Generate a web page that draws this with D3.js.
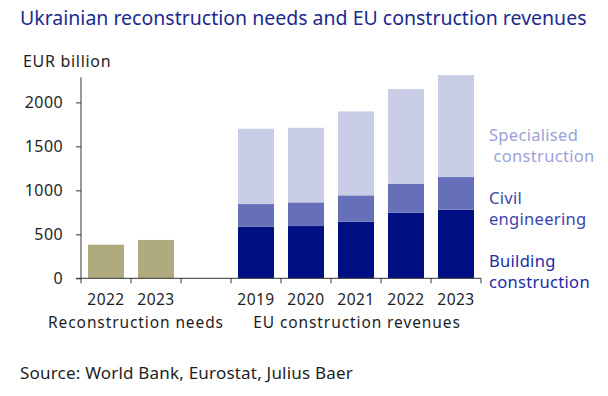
<!DOCTYPE html>
<html><head><meta charset="utf-8">
<script src="https://cdn.jsdelivr.net/npm/d3@7"></script>
<style>body{margin:0;background:#fff;} svg{display:block;font-family:"Noto Sans",sans-serif;}</style>
</head><body>
<svg id="c" width="608" height="396"></svg>
<script>
const slots = ["r2022","r2023","gap","e2019","e2020","e2021","e2022","e2023"];
const slotLabels = ["2022","2023","","2019","2020","2021","2022","2023"];
const reconCats = ["r2022","r2023"];
const reconValues = [382, 436];
const euCats = ["e2019","e2020","e2021","e2022","e2023"];
const building = [587, 594, 644, 746, 780];
const civil = [257, 269, 299, 329, 371];
const specialised = [856, 848, 954, 1076, 1159];
const yTicks = [0, 500, 1000, 1500, 2000];

const svg = d3.select("#c");
const x0 = 81, x1 = 481, yBase = 278.3;
const x = d3.scaleBand().domain(slots).range([x0, x1]).paddingInner(0.28).paddingOuter(0.14);
const y = d3.scaleLinear().domain([0, 2285]).range([yBase, 77.3]);
const ink = "#1e1e1e";

svg.append("text").attr("x", 20).attr("y", 25).attr("font-size", 19.5).attr("fill", "#1b2a8e")
  .text("Ukrainian reconstruction needs and EU construction revenues");
svg.append("text").attr("x", 23).attr("y", 67).attr("font-size", 16).attr("letter-spacing", 0.7).attr("fill", ink).text("EUR billion");

// recon bars
svg.selectAll("rect.rec").data(reconCats).join("rect").attr("class","rec")
  .attr("x", d => x(d)).attr("width", x.bandwidth())
  .attr("y", (d,i) => y(reconValues[i])).attr("height", (d,i) => y(0) - y(reconValues[i]))
  .attr("fill", "#b0aa7f");

// stacked
const rows = euCats.map((c,i) => ({cat:c, building:building[i], civil:civil[i], specialised:specialised[i]}));
const stack = d3.stack().keys(["building","civil","specialised"])(rows);
const colors = {building:"#000f82", civil:"#6670b8", specialised:"#c9cde6"};
stack.forEach(s => {
  svg.selectAll(null).data(s).join("rect")
    .attr("x", d => x(d.data.cat)).attr("width", x.bandwidth())
    .attr("y", d => y(d[1])).attr("height", d => y(d[0]) - y(d[1]))
    .attr("fill", colors[s.key]);
});

// y axis
const ya = svg.append("g").attr("transform", `translate(${x0},0)`)
  .call(d3.axisLeft(y).tickValues(yTicks).tickSize(5).tickPadding(13).tickFormat(d3.format("d")));
ya.select(".domain").attr("d", `M0,${y.range()[1]}V${yBase}`).attr("stroke","#333");
ya.selectAll("line").attr("stroke","#333");
ya.selectAll("text").attr("font-size", 16).attr("letter-spacing", 0.4).attr("fill", ink).attr("font-family","Noto Sans");

// x axis
const xa = svg.append("g").attr("transform", `translate(0,${yBase})`);
xa.append("line").attr("x1", x0-5).attr("x2", x1).attr("stroke","#333");
const step = x.step();
const bounds = slots.map(s => x(s) - x.step()*x.paddingInner()/2);
bounds.push(x1);
xa.selectAll("line.tk").data(bounds).join("line").attr("class","tk")
  .attr("x1", d => d).attr("x2", d => d).attr("y1", 0).attr("y2", 5).attr("stroke","#333");
xa.selectAll("text.xl").data(slots).join("text").attr("class","xl")
  .attr("x", d => x(d) + x.bandwidth()/2).attr("y", 27).attr("text-anchor","middle")
  .attr("font-size", 15.5).attr("letter-spacing", 0.5).attr("fill", ink).text((d,i) => slotLabels[i]);

svg.append("text").attr("x", 136).attr("y", 328).attr("text-anchor","middle").attr("font-size",15.5).attr("letter-spacing",0.9).attr("fill",ink).text("Reconstruction needs");
svg.append("text").attr("x", 357).attr("y", 328).attr("text-anchor","middle").attr("font-size",15.5).attr("letter-spacing",0.9).attr("fill",ink).text("EU construction revenues");

// legend
const leg = [
  {lines:["Specialised"," construction"], y:141, color:"#9ba2d6"},
  {lines:["Civil","engineering"], y:204, color:"#3a46ae"},
  {lines:["Building","construction"], y:267, color:"#1a2aa6"}
];
leg.forEach(l => {
  const t = svg.append("text").attr("x", 489).attr("y", l.y).attr("font-size", 16.5).attr("letter-spacing", 0.3).attr("fill", l.color);
  l.lines.forEach((s,i) => t.append("tspan").attr("x", 489).attr("dy", i ? 21 : 0).style("white-space","pre").text(s));
});

svg.append("text").attr("x", 20).attr("y", 379).attr("font-size", 17).attr("letter-spacing", 0.2).attr("fill", ink).text("Source: World Bank, Eurostat, Julius Baer");
</script>
</body></html>
